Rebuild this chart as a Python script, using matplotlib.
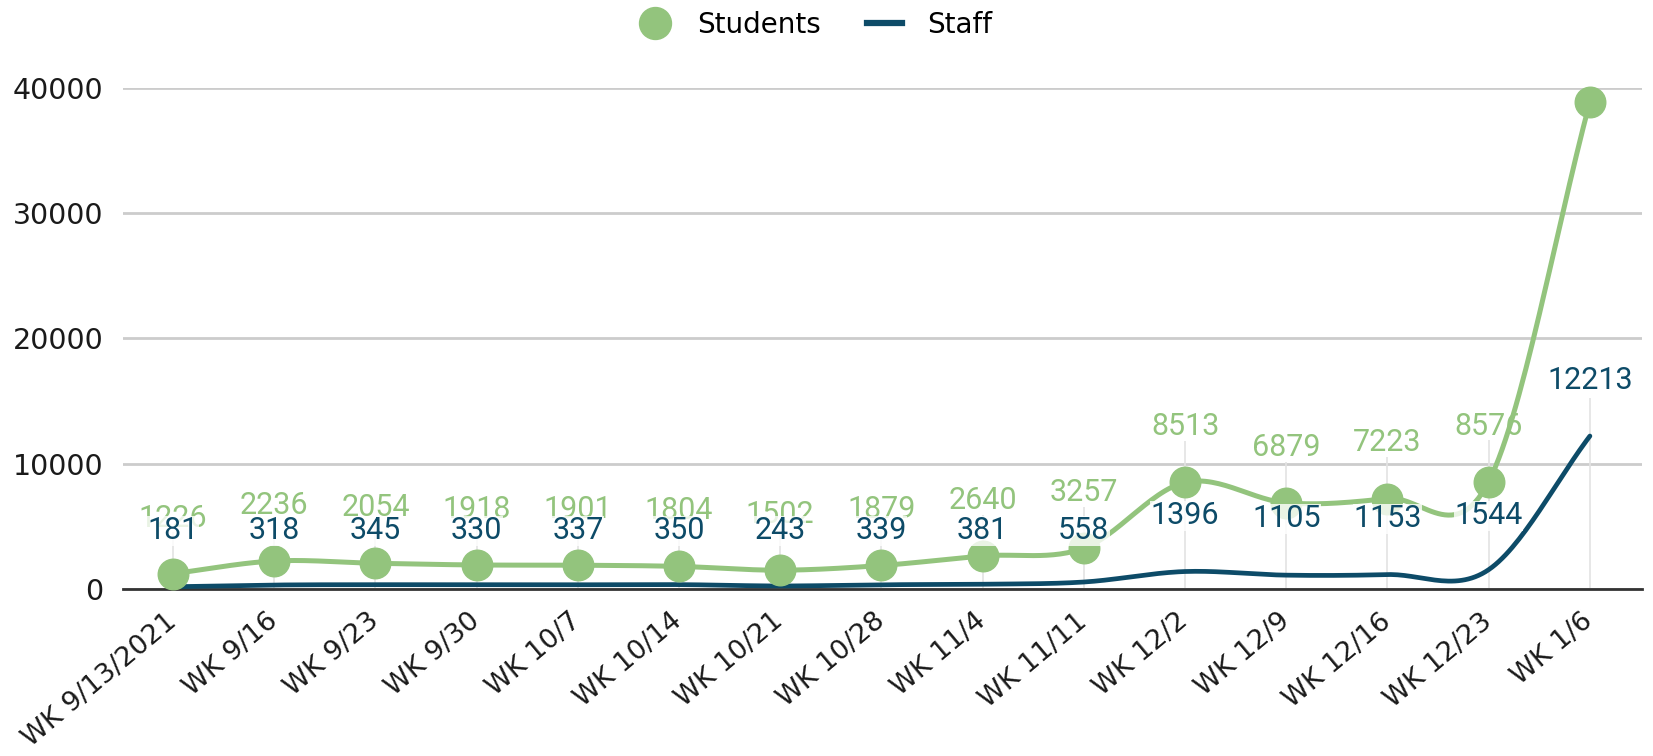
import matplotlib
matplotlib.use('Agg')
import matplotlib.pyplot as plt
import matplotlib.transforms as mtransforms
from matplotlib.lines import Line2D
import numpy as np

weeks = ['WK 9/13/2021', 'WK 9/16', 'WK 9/23', 'WK 9/30', 'WK 10/7', 'WK 10/14',
         'WK 10/21', 'WK 10/28', 'WK 11/4', 'WK 11/11', 'WK 12/2', 'WK 12/9',
         'WK 12/16', 'WK 12/23', 'WK 1/6']
students = [1226, 2236, 2054, 1918, 1901, 1804, 1502, 1879, 2640, 3257,
            8513, 6879, 7223, 8576, 38900]
staff = [181, 318, 345, 330, 337, 350, 243, 339, 381, 558,
         1396, 1105, 1153, 1544, 12213]

GREEN = '#93c47d'
BLUE = '#0d4b68'

# where the staff labels sit (data units), they dodge the student labels
staff_label_y = [4640] * 10 + [5840, 5600, 5600, 5840, 16640]


def smooth(y, n=30):
    # catmull-rom through the points, like the sheet's "smooth" option
    y = np.asarray(y, dtype=float)
    m = np.empty_like(y)
    m[1:-1] = (y[2:] - y[:-2]) / 2
    m[0] = y[1] - y[0]
    m[-1] = y[-1] - y[-2]
    xs, ys = [], []
    for i in range(len(y) - 1):
        t = np.linspace(0, 1, n, endpoint=False)
        h00 = 2*t**3 - 3*t**2 + 1
        h10 = t**3 - 2*t**2 + t
        h01 = -2*t**3 + 3*t**2
        h11 = t**3 - t**2
        xs.append(i + t)
        ys.append(h00*y[i] + h10*m[i] + h01*y[i+1] + h11*m[i+1])
    xs.append([len(y) - 1])
    ys.append([y[-1]])
    return np.concatenate(xs), np.concatenate(ys)


fig = plt.figure(figsize=(16.53, 7.56), dpi=100)
ax = fig.add_axes([0.0744, 0.2209, 0.9189, 0.6627])

x = np.arange(len(weeks))

# faint leader lines from the axis up to the labels
for i in range(len(weeks)):
    if i < len(weeks) - 1:
        top = students[i] + 3300
    else:
        top = staff_label_y[i] - 1400
    ax.vlines(i, 0, top, color='#e3e3e3', lw=1.2, zorder=1)

sx, sy = smooth(staff)
ax.plot(sx, sy, color=BLUE, lw=3.4, zorder=3, solid_capstyle='round')
gx, gy = smooth(students)
ax.plot(gx, gy, color=GREEN, lw=3.6, zorder=4, solid_capstyle='round')
ax.plot(x, students, 'o', color=GREEN, ms=22, zorder=5, clip_on=False)

for i in range(len(weeks) - 1):
    ax.annotate(str(students[i]), (i, students[i]), xytext=(0, 40),
                textcoords='offset points', ha='center', va='center',
                fontsize=22, family='Roboto', color=GREEN, zorder=6)
for i in range(len(weeks)):
    ax.text(i, staff_label_y[i], str(staff[i]), ha='center', va='center',
            fontsize=22, family='Roboto', color=BLUE, zorder=7,
            bbox=dict(facecolor='white', edgecolor='none', pad=0.3, alpha=0.8))

ax.set_xlim(-0.494, 14.514)
ax.set_ylim(0, 40000)
ax.set_yticks([0, 10000, 20000, 30000, 40000])
ax.set_xticks(x)
ax.set_xticklabels(weeks, rotation=40, ha='right', va='center',
                   rotation_mode='anchor', fontsize=19.5, color='#1a1a1a')
shift = mtransforms.ScaledTranslation(0.22, 0, fig.dpi_scale_trans)
for lab in ax.get_xticklabels():
    lab.set_transform(lab.get_transform() + shift)
for lab in ax.get_yticklabels():
    lab.set_fontsize(20.5)
    lab.set_color('#1a1a1a')
ax.tick_params(axis='y', length=0, pad=14)
ax.tick_params(axis='x', length=0, pad=21)
ax.grid(axis='y', color='#cccccc', lw=2)
ax.set_axisbelow(True)
for s in ['top', 'right', 'left']:
    ax.spines[s].set_visible(False)
ax.spines['bottom'].set_color('#333333')
ax.spines['bottom'].set_linewidth(2)
ax.spines['bottom'].set_zorder(2)

handles = [Line2D([], [], marker='o', color=GREEN, ls='none', ms=23),
           Line2D([], [], color=BLUE, lw=4.5)]
fig.legend(handles, ['Students', 'Staff'], loc='center left',
           bbox_to_anchor=(0.3857, 0.967), ncol=2, frameon=False,
           fontsize=20, handlelength=1.26, handletextpad=0.9,
           columnspacing=1.65, borderpad=0, borderaxespad=0)

fig.savefig('out.png', dpi=100)
